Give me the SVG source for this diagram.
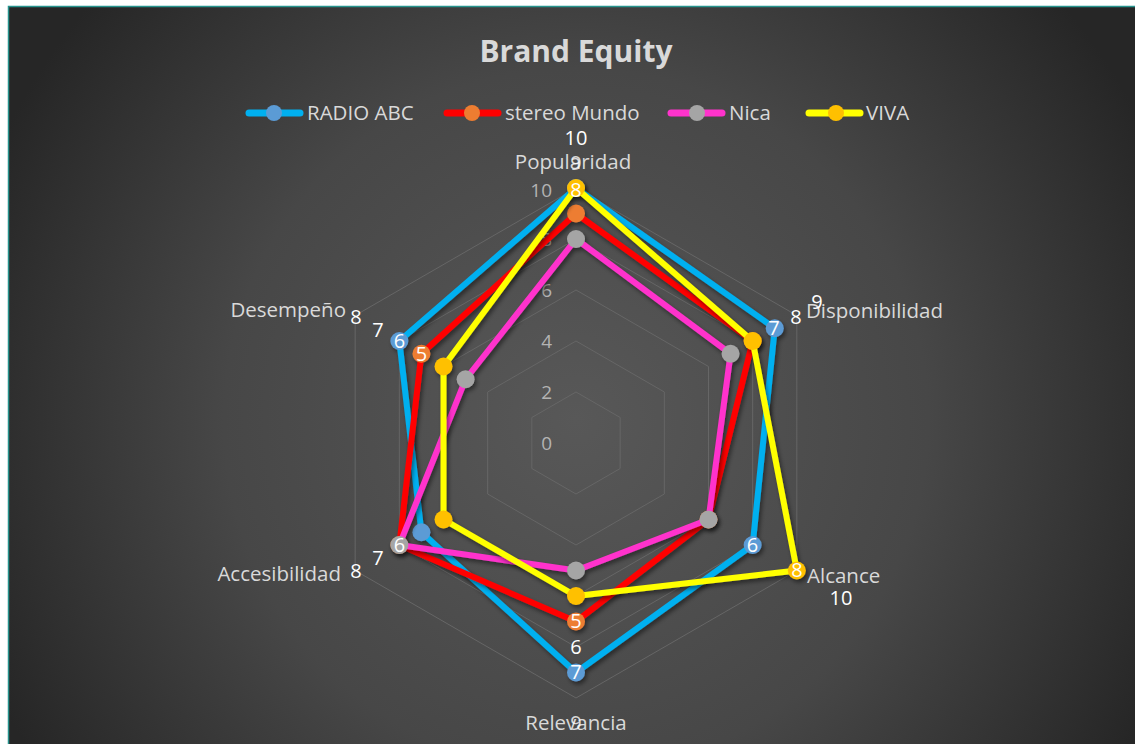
<svg xmlns="http://www.w3.org/2000/svg" width="1135" height="744" viewBox="0 0 1135 744">
<defs>
<radialGradient id="bg" cx="576" cy="420" r="640" gradientUnits="userSpaceOnUse">
<stop offset="0" stop-color="#585858"/>
<stop offset="0.55" stop-color="#474747"/>
<stop offset="1" stop-color="#262626"/>
</radialGradient>
<filter id="sh" x="-10%" y="-10%" width="130%" height="130%">
<feDropShadow dx="2" dy="3" stdDeviation="2" flood-color="#000" flood-opacity="0.45"/>
</filter>
</defs>
<style>
text{font-family:"Open Sans","Liberation Sans",sans-serif}
.title{font-size:30px;font-weight:bold;fill:#d9d9d9;text-anchor:middle}
.leg{font-size:20.5px;fill:#d9d9d9}
.ax{font-size:20.5px;fill:#d9d9d9}
.val{font-size:19px;fill:#b3b3b3;text-anchor:end}
.dl{font-size:20px;fill:#ffffff;text-anchor:middle}
.grid{fill:none;stroke:#666666;stroke-width:1}
.ln{fill:none;stroke-width:6;stroke-linejoin:round;stroke-linecap:round}
.mk{stroke:none}
</style>
<rect x="0" y="0" width="1135" height="744" fill="#ffffff"/>
<rect x="8.5" y="6.5" width="1140" height="760" fill="url(#bg)" stroke="#27948e" stroke-width="1.5"/>

<text class="title" x="576" y="62">Brand Equity</text>

<g id="legend">
<g id="legend-radio-abc">
<line x1="249" y1="113" x2="300" y2="113" stroke="#00b0f0" stroke-width="7" stroke-linecap="round"/>
<circle cx="274" cy="113" r="8" fill="#5b9bd5"/>
<text class="leg" x="307" y="120">RADIO ABC</text>
</g>
<g id="legend-stereo-mundo">
<line x1="447" y1="113" x2="498" y2="113" stroke="#ff0000" stroke-width="7" stroke-linecap="round"/>
<circle cx="472" cy="113" r="8" fill="#ed7d31"/>
<text class="leg" x="505" y="120">stereo Mundo</text>
</g>
<g id="legend-nica">
<line x1="671" y1="113" x2="722" y2="113" stroke="#ff33cc" stroke-width="7" stroke-linecap="round"/>
<circle cx="697" cy="113" r="8" fill="#a5a5a5"/>
<text class="leg" x="729" y="120">Nica</text>
</g>
<g id="legend-viva">
<line x1="809" y1="113" x2="860" y2="113" stroke="#ffff00" stroke-width="7" stroke-linecap="round"/>
<circle cx="836" cy="113" r="8" fill="#ffc000"/>
<text class="leg" x="866" y="120">VIVA</text>
</g>
</g>

<g id="grid">
<polygon class="grid" points="576,392 620.17,417.5 620.17,468.5 576,494 531.83,468.5 531.83,417.5"/>
<polygon class="grid" points="576,341 664.33,392 664.33,494 576,545 487.67,494 487.67,392"/>
<polygon class="grid" points="576,290 708.5,366.5 708.5,519.5 576,596 443.5,519.5 443.5,366.5"/>
<polygon class="grid" points="576,239 752.67,341 752.67,545 576,647 399.33,545 399.33,341"/>
<polygon class="grid" points="576,188 796.84,315.5 796.84,570.5 576,698 355.16,570.5 355.16,315.5"/>
</g>

<g id="value-axis">
<text class="val" x="552" y="450">0</text>
<text class="val" x="552" y="399">2</text>
<text class="val" x="552" y="348">4</text>
<text class="val" x="552" y="297">6</text>
<text class="val" x="552" y="246">8</text>
<text class="val" x="552" y="197">10</text>
</g>

<g id="axis-labels">
<text id="lbl-popularidad" class="ax" x="573" y="169" text-anchor="middle">Popularidad</text>
<text id="lbl-disponibilidad" class="ax" x="806" y="318">Disponibilidad</text>
<text id="lbl-alcance" class="ax" x="807" y="583">Alcance</text>
<text id="lbl-relevancia" class="ax" x="576" y="730" text-anchor="middle">Relevancia</text>
<text id="lbl-accesibilidad" class="ax" x="341" y="581" text-anchor="end">Accesibilidad</text>
<text id="lbl-desempeno" class="ax" x="346" y="317" text-anchor="end">Desempeño</text>
</g>

<g id="connectors">
<g id="series-radio-abc" filter="url(#sh)">
<polygon class="ln" stroke="#00b0f0" points="576,188 774.75,328.25 752.66,545 576,672.5 421.42,532.25 399.34,341"/>
<g class="mk" fill="#5b9bd5">
<circle cx="576" cy="188" r="9"/>
<circle cx="774.75" cy="328.25" r="9"/>
<circle cx="752.66" cy="545" r="9"/>
<circle cx="576" cy="672.5" r="9"/>
<circle cx="421.42" cy="532.25" r="9"/>
<circle cx="399.34" cy="341" r="9"/>
</g>
</g>
<g id="series-stereo-mundo" filter="url(#sh)">
<polygon class="ln" stroke="#ff0000" points="576,213.5 752.66,341 708.5,519.5 576,621.5 399.34,545 421.42,353.75"/>
<g class="mk" fill="#ed7d31">
<circle cx="576" cy="213.5" r="9"/>
<circle cx="752.66" cy="341" r="9"/>
<circle cx="708.5" cy="519.5" r="9"/>
<circle cx="576" cy="621.5" r="9"/>
<circle cx="399.34" cy="545" r="9"/>
<circle cx="421.42" cy="353.75" r="9"/>
</g>
</g>
<g id="series-nica" filter="url(#sh)">
<polygon class="ln" stroke="#ff33cc" points="576,239 730.58,353.75 708.5,519.5 576,570.5 399.34,545 465.58,379.25"/>
<g class="mk" fill="#a5a5a5">
<circle cx="576" cy="239" r="9"/>
<circle cx="730.58" cy="353.75" r="9"/>
<circle cx="708.5" cy="519.5" r="9"/>
<circle cx="576" cy="570.5" r="9"/>
<circle cx="399.34" cy="545" r="9"/>
<circle cx="465.58" cy="379.25" r="9"/>
</g>
</g>
<g id="series-viva" filter="url(#sh)">
<polygon class="ln" stroke="#ffff00" points="576,188 752.66,341 796.83,570.5 576,596 443.5,519.5 443.5,366.5"/>
<g class="mk" fill="#ffc000">
<circle cx="576" cy="188" r="9"/>
<circle cx="752.66" cy="341" r="9"/>
<circle cx="796.83" cy="570.5" r="9"/>
<circle cx="576" cy="596" r="9"/>
<circle cx="443.5" cy="519.5" r="9"/>
<circle cx="443.5" cy="366.5" r="9"/>
</g>
</g>
</g>

<g id="data-labels">
<text class="dl" x="576" y="145">10</text>
<text class="dl" x="576" y="170" fill-opacity="0.8">9</text>
<text class="dl" x="576" y="197">8</text>
<text class="dl" x="796" y="324">8</text>
<text class="dl" x="817" y="309">9</text>
<text class="dl" x="774" y="335">7</text>
<text class="dl" x="752.5" y="552">6</text>
<text class="dl" x="797" y="577">8</text>
<text class="dl" x="841" y="605">10</text>
<text class="dl" x="576" y="628">5</text>
<text class="dl" x="576" y="654">6</text>
<text class="dl" x="576" y="679">7</text>
<text class="dl" x="576" y="730" fill-opacity="0.8">9</text>
<text class="dl" x="399.5" y="552">6</text>
<text class="dl" x="378" y="565">7</text>
<text class="dl" x="356" y="578">8</text>
<text class="dl" x="399.5" y="348">6</text>
<text class="dl" x="421.5" y="361">5</text>
<text class="dl" x="378" y="337">7</text>
<text class="dl" x="356" y="324">8</text>
</g>
</svg>
